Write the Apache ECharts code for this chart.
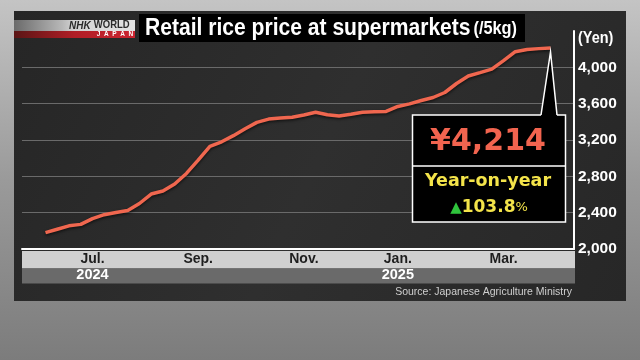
<!DOCTYPE html>
<html><head><meta charset="utf-8">
<script src="https://cdn.jsdelivr.net/npm/echarts@6/dist/echarts.min.js"></script>
<style>html,body{margin:0;padding:0;background:#9a9a9a}#c{width:640px;height:360px}</style>
</head><body><div id="c"></div>
<script>
// Weekly data (week start dates)
const weeks = ['2024-06-03','2024-06-10','2024-06-17','2024-06-24','2024-07-01','2024-07-08','2024-07-15','2024-07-22','2024-07-29','2024-08-05','2024-08-12','2024-08-19','2024-08-26','2024-09-02','2024-09-09','2024-09-16','2024-09-23','2024-09-30','2024-10-07','2024-10-14','2024-10-21','2024-10-28','2024-11-04','2024-11-11','2024-11-18','2024-11-25','2024-12-02','2024-12-09','2024-12-16','2024-12-23','2024-12-30','2025-01-06','2025-01-13','2025-01-20','2025-01-27','2025-02-03','2025-02-10','2025-02-17','2025-02-24','2025-03-03','2025-03-10','2025-03-17','2025-03-24','2025-03-31'];
const prices = [2181,2218,2255,2271,2335,2378,2402,2424,2501,2605,2638,2715,2832,2978,3131,3180,3248,3323,3394,3430,3442,3451,3475,3506,3478,3465,3484,3505,3511,3515,3569,3598,3635,3668,3723,3822,3904,3942,3981,4074,4172,4197,4206,4214];
const monthTicks = {'2024-07-01':'Jul.','2024-09-02':'Sep.','2024-11-04':'Nov.','2024-12-30':'Jan.','2025-03-03':'Mar.'};
const yearTicks = {'2024-07-01':'2024','2024-12-30':'2025'};
const yMin = 2000, yMax = 4400, yStep = 400;
const latestLabel = '¥4,214';
const yoyLabel = '103.8';

const padL = ['p0','p1'], padR = ['p2','p3'];
const cats = padL.concat(weeks, padR);
const seriesData = padL.map(()=>null).concat(prices, padR.map(()=>null));

const chart = echarts.init(document.getElementById('c'), null, {renderer:'canvas'});
const sans = '"Liberation Sans",Arial,sans-serif';
const dv = '"DejaVu Sans",sans-serif';

const option = {
  animation:false,
  backgroundColor:{type:'linear',x:0,y:0,x2:0,y2:1,colorStops:[{offset:0,color:'#c4c4c4'},{offset:0.5,color:'#9a9a9a'},{offset:1,color:'#7c7c7c'}]},
  grid:{left:22,right:66,top:31,bottom:111,containLabel:false},
  xAxis:[{
    type:'category',data:cats,boundaryGap:false,
    axisLine:{show:true,lineStyle:{color:'#ffffff',width:2}},
    axisTick:{show:false},splitLine:{show:false},
    axisLabel:{interval:(i,v)=>v in monthTicks,formatter:v=>monthTicks[v]||'',color:'#1e1e1e',fontWeight:'bold',fontSize:14,fontFamily:sans,margin:3}
  },{
    type:'category',data:cats,boundaryGap:false,position:'bottom',offset:18,
    axisLine:{show:false},axisTick:{show:false},splitLine:{show:false},
    axisLabel:{interval:(i,v)=>v in yearTicks,formatter:v=>yearTicks[v]||'',color:'#fff',fontWeight:'bold',fontSize:14.5,fontFamily:sans,margin:0}
  }],
  yAxis:{
    type:'value',position:'right',min:yMin,max:yMax,interval:yStep,
    axisLine:{show:true,lineStyle:{color:'#ffffff',width:2}},
    axisTick:{show:false},
    splitLine:{show:true,lineStyle:{color:['rgba(0,0,0,0)','#6a6a6a','#6a6a6a','#6a6a6a','#6a6a6a','#6a6a6a','rgba(0,0,0,0)'],width:1}},
    axisLabel:{formatter:v=>v===yMax?'':v.toLocaleString('en-US'),color:'#fff',fontWeight:'bold',fontSize:15.5,fontFamily:sans,margin:4}
  },
  series:[{
    type:'line',data:seriesData,xAxisIndex:0,yAxisIndex:0,showSymbol:false,smooth:false,z:5,
    lineStyle:{color:'#f0674f',width:3.5,shadowColor:'rgba(0,0,0,0.6)',shadowBlur:3,shadowOffsetY:1.5}
  }]
};
chart.setOption(option);

const last = prices.length - 1;
const apex = chart.convertToPixel({xAxisIndex:0,yAxisIndex:0},[padL.length+last, prices[last]]);

const elements = [
  {type:'rect',z:-20,shape:{x:14,y:11,width:612,height:290},style:{fill:{type:'linear',x:0,y:0,x2:1,y2:1,colorStops:[{offset:0,color:'#262626'},{offset:0.5,color:'#2f2f2f'},{offset:1,color:'#272727'}]}}},
  {type:'rect',z:-10,shape:{x:22,y:251,width:553,height:17.5},style:{fill:'#d0d0d0'}},
  {type:'rect',z:-10,shape:{x:22,y:268.5,width:553,height:15},style:{fill:'#6a6a6a'}},
  // logo
  {type:'rect',z:10,shape:{x:14,y:20,width:121,height:11},style:{fill:{type:'linear',x:0,y:0,x2:1,y2:0,colorStops:[{offset:0,color:'#6a6a6a'},{offset:0.4,color:'#b8b8b8'},{offset:0.5,color:'#d4d4d4'},{offset:1,color:'#e2e2e2'}]}}},
  {type:'rect',z:10,shape:{x:14,y:31,width:121,height:7},style:{fill:{type:'linear',x:0,y:0,x2:1,y2:0,colorStops:[{offset:0,color:'#5a1515'},{offset:0.5,color:'#b01e26'},{offset:1,color:'#cc2430'}]}}},
  {type:'text',z:11,x:69,y:25.7,scaleX:0.95,style:{text:'{a|NHK} {b|WORLD}',verticalAlign:'middle',rich:{a:{fontFamily:sans,fontStyle:'italic',fontWeight:'bold',fontSize:10.5,fill:'#2a2a2a'},b:{fontFamily:sans,fontWeight:'bold',fontSize:10,fill:'#2a2a2a'}}}},
  {type:'text',z:11,x:115,y:34.5,style:{text:'J  A  P  A  N',align:'center',verticalAlign:'middle',fontFamily:sans,fontWeight:'bold',fontSize:6.5,fill:'#fff'}},
  // title
  {type:'rect',z:10,shape:{x:139,y:14,width:386,height:28},style:{fill:'#000'}},
  {type:'text',z:11,x:145,y:28.5,scaleX:0.86,style:{text:'{a|Retail rice price at supermarkets} {b|(/5kg)}',verticalAlign:'middle',rich:{a:{fontFamily:sans,fontWeight:'bold',fontSize:24.5,fill:'#fff'},b:{fontFamily:sans,fontWeight:'bold',fontSize:19,fill:'#fff'}}}},
  // yen unit
  {type:'text',z:11,x:578,y:38,scaleX:0.85,style:{text:'(Yen)',verticalAlign:'middle',fontFamily:sans,fontWeight:'bold',fontSize:17,fill:'#fff'}},
  // source
  {type:'text',z:11,x:572,y:292,style:{text:'Source: Japanese Agriculture Ministry',align:'right',verticalAlign:'middle',fontFamily:sans,fontSize:10.5,fill:'#cfcfcf'}},
  // callout
  {type:'rect',z:19,shape:{x:412.5,y:115,width:153,height:107},style:{fill:'#000',stroke:'#fff',lineWidth:1.5}},
  {type:'polygon',z:20,shape:{points:[[541,116],[apex[0],apex[1]+4],[557,116]]},style:{fill:'#000'}},
  {type:'polyline',z:21,shape:{points:[[541,115],[apex[0],apex[1]+4],[557,115]]},style:{stroke:'#fff',lineWidth:1.5,fill:null}},
  {type:'line',z:21,shape:{x1:412.5,y1:166,x2:565.5,y2:166},style:{stroke:'#fff',lineWidth:1.5}},
  {type:'text',z:22,x:488,y:142,style:{text:latestLabel,align:'center',verticalAlign:'middle',fontFamily:dv,fontWeight:'bold',fontSize:30,fill:'#f2644f'}},
  {type:'text',z:22,x:488,y:181,style:{text:'Year-on-year',align:'center',verticalAlign:'middle',fontFamily:dv,fontWeight:'bold',fontSize:17.5,fill:'#f4e44a'}},
  {type:'text',z:22,x:489,y:208,style:{text:'{g|▲}{n|'+yoyLabel+'}{p|%}',align:'center',verticalAlign:'middle',rich:{g:{fontFamily:dv,fontSize:15,fill:'#2fc43c'},n:{fontFamily:dv,fontWeight:'bold',fontSize:17,fill:'#f4e44a'},p:{fontFamily:dv,fontSize:13,fill:'#f4e44a'}}}}
];
chart.setOption({graphic:elements});
</script></body></html>
